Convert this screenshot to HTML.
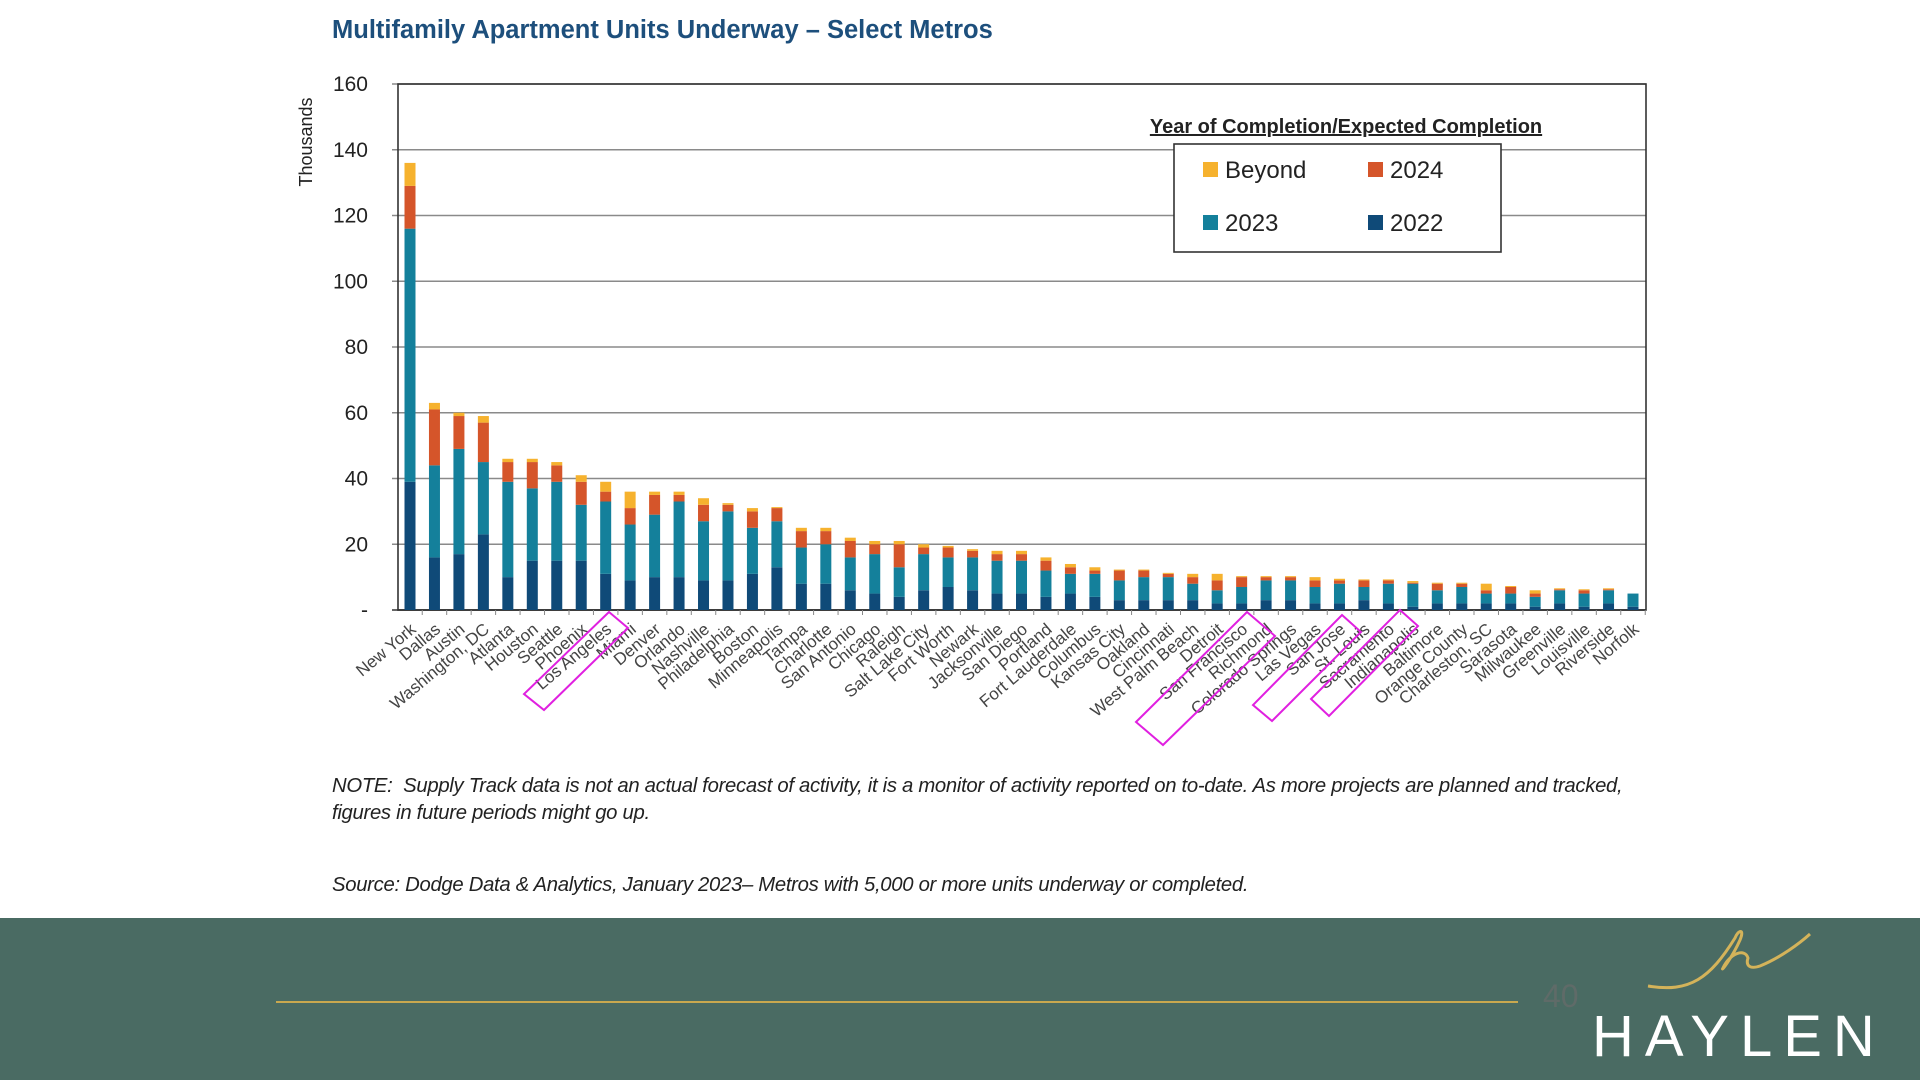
<!DOCTYPE html>
<html><head><meta charset="utf-8"><style>
body{margin:0;width:1920px;height:1080px;overflow:hidden;background:#fff;font-family:"Liberation Sans","DejaVu Sans",sans-serif;position:relative}
.note{position:absolute;left:332px;font-style:italic;font-size:20.3px;color:#222;letter-spacing:-0.3px}
</style></head><body>
<div style="position:absolute;left:332px;top:16px;font-size:25.5px;font-weight:bold;color:#1d4f7c;letter-spacing:0px">Multifamily Apartment Units Underway – Select Metros</div>
<svg id="chart" width="1920" height="780" style="position:absolute;left:0;top:0"></svg>
<div class="note" style="top:773px;width:1335px;line-height:27px">NOTE:&nbsp; Supply Track data is not an actual forecast of activity, it is a monitor of activity reported on to-date. As more projects are planned and tracked, figures in future periods might go up.</div>
<div class="note" style="top:874px">Source: Dodge Data &amp; Analytics, January 2023– Metros with 5,000 or more units underway or completed.</div>
<div style="position:absolute;left:0;top:918px;width:1920px;height:162px;background:#4a6b63">
  <div style="position:absolute;left:276px;top:83px;width:1242px;height:2px;background:#c9a84f"></div>
  <div style="position:absolute;left:1543px;top:60px;font-size:32px;color:#5f6b68">40</div>
  <svg width="340" height="80" style="position:absolute;left:1560px;top:0">
    <path d="M88 68 C130 75 150 60 175 20 C178 12 185 10 180 22 C172 40 160 55 163 50 C170 35 185 30 188 40 C186 46 188 52 200 48 C220 40 240 25 250 16" fill="none" stroke="#d4b35a" stroke-width="3"/>
  </svg>
  <svg width="300" height="80" style="position:absolute;left:1590px;top:78px">
    <text x="2" y="60" font-size="58" fill="#fff" letter-spacing="11" font-family="Liberation Sans, sans-serif">HAYLEN</text>
  </svg>
</div>
<script>
const categories=["New York","Dallas","Austin","Washington, DC","Atlanta","Houston","Seattle","Phoenix","Los Angeles","Miami","Denver","Orlando","Nashville","Philadelphia","Boston","Minneapolis","Tampa","Charlotte","San Antonio","Chicago","Raleigh","Salt Lake City","Fort Worth","Newark","Jacksonville","San Diego","Portland","Fort Lauderdale","Columbus","Kansas City","Oakland","Cincinnati","West Palm Beach","Detroit","San Francisco","Richmond","Colorado Springs","Las Vegas","San Jose","St. Louis","Sacramento","Indianapolis","Baltimore","Orange County","Charleston, SC","Sarasota","Milwaukee","Greenville","Louisville","Riverside","Norfolk"];
const s2022=[39,16,17,23,10,15,15,15,11,9,10,10,9,9,11,13,8,8,6,5,4,6,7,6,5,5,4,5,4,3,3,3,3,2,2,3,3,2,2,3,2,1,2,2,2,2,1,2,1,2,1];
const s2023=[77,28,32,22,29,22,24,17,22,17,19,23,18,21,14,14,11,12,10,12,9,11,9,10,10,10,8,6,7,6,7,7,5,4,5,6,6,5,6,4,6,7,4,5,3,3,3,4,4,4,4];
const s2024=[13,17,10,12,6,8,5,7,3,5,6,2,5,2,5,4,5,4,5,3,7,2,3,2,2,2,3,2,1,3,2,1,2,3,3,1,1,2,1,2,1,0.3,2,1,1,2,1,0.3,1,0.3,0];
const sBeyond=[7,2,1,2,1,1,1,2,3,5,1,1,2,0.5,1,0.3,1,1,1,1,1,1,0.5,0.5,1,1,1,1,1,0.3,0.3,0.3,1,2,0.3,0.3,0.3,1,0.5,0.3,0.3,0.5,0.3,0.3,2,0.3,1,0.3,0.3,0.3,0];
const yTicks=[0,20,40,60,80,100,120,140,160];
const yTickLabels=["-","20","40","60","80","100","120","140","160"];
const colors={"2022":"#0f4a78","2023":"#14809b","2024":"#d5552a","Beyond":"#f6b22e"};
const svg=document.getElementById('chart');
const NS='http://www.w3.org/2000/svg';
const L=398,R=1646,T=84,B=610,YMAX=160;
const y=v=>B-(v/YMAX)*(B-T);
const step=(1633-410)/(categories.length-1);
const x=i=>410+i*step;
function mk(tag,attrs,txt){const e=document.createElementNS(NS,tag);for(const k in attrs)e.setAttribute(k,attrs[k]);if(txt!=null)e.textContent=txt;svg.appendChild(e);return e;}
yTicks.forEach((t,i)=>{
  const g=mk('line',{x1:L-6,x2:R,y1:y(t),y2:y(t),stroke:t===0?'#666':'#8a8a8a','stroke-width':t===0?2:1.6});
  
  
  const lb=mk('text',{x:368,y:y(t)+7,'text-anchor':'end','font-size':21,fill:'#222'},yTickLabels[i]);
  
  
});
const frame=mk('rect',{x:L,y:T,width:R-L,height:B-T,fill:'none',stroke:'#333','stroke-width':1.6});


const yt=mk('text',{x:0,y:0,transform:'translate(312,142) rotate(-90)','text-anchor':'middle','font-size':18,fill:'#222'},'Thousands');


const bw=11;
categories.forEach((c,i)=>{
  let base=0;
  [["2022",s2022],["2023",s2023],["2024",s2024],["Beyond",sBeyond]].forEach(([n,arr])=>{
    const v=arr[i];
    const r=mk('rect',{x:x(i)-bw/2,y:y(base+v),width:bw,height:y(base)-y(base+v),fill:colors[n]});
    
    
    base+=v;
  });
  const tk=mk('line',{x1:x(i)+step/2,x2:x(i)+step/2,y1:B,y2:B+5,stroke:'#888','stroke-width':1});
  
  
  const t=mk('text',{x:0,y:0,transform:`translate(${x(i)+7},${B+21}) rotate(-40)`,'text-anchor':'end','font-size':17,fill:'#444'},c);
  
  
});
[[[609,612],[628,628],[544,710],[524,694]],[[1247,612],[1275,636],[1163,745],[1136,722]],[[1342,615],[1361,632],[1272,721],[1253,705]],[[1400,610],[1418,626],[1329,716],[1311,699]]].forEach(p=>{
  const h=mk('polygon',{points:p.map(q=>q.join(',')).join(' '),fill:'none',stroke:'#e020e0','stroke-width':2});
  
  
});
const lt=mk('text',{x:1346,y:133,'text-anchor':'middle','font-size':20,'font-weight':'bold',fill:'#222','text-decoration':'underline'},'Year of Completion/Expected Completion');


const lb=mk('rect',{x:1174,y:144,width:327,height:108,fill:'#fff',stroke:'#333','stroke-width':1.6});


const pos=[[1203,171],[1368,171],[1203,224],[1368,224]];
["Beyond","2024","2023","2022"].forEach((n,i)=>{
  const [px,py]=pos[i];
  const sq=mk('rect',{x:px,y:py-9,width:15,height:15,fill:colors[n]});
  
  
  const tx=mk('text',{x:px+22,y:py+7,'font-size':24,fill:'#222'},n);
  
  
});
</script>
</body></html>
